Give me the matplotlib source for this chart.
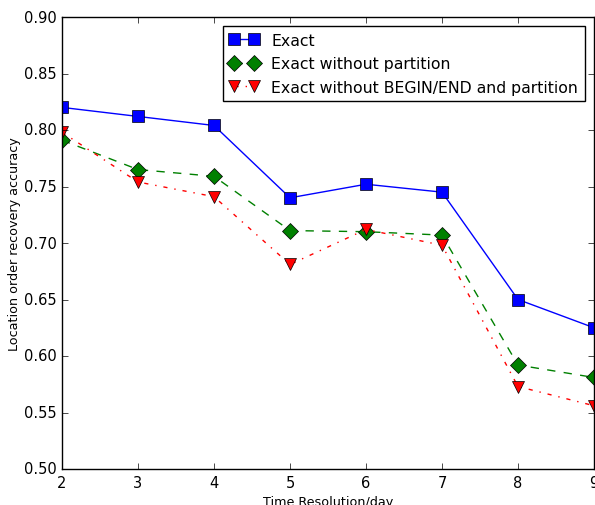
import matplotlib
matplotlib.use("Agg")
import matplotlib.pyplot as plt

plt.style.use("classic")

# time resolution (days)
resolution = [2, 3, 4, 5, 6, 7, 8, 9]

# recovery accuracy per method
exact = [0.820, 0.812, 0.804, 0.740, 0.752, 0.745, 0.650, 0.625]
exact_no_part = [0.791, 0.765, 0.759, 0.711, 0.710, 0.707, 0.592, 0.581]
exact_no_be_part = [0.798, 0.754, 0.741, 0.681, 0.712, 0.698, 0.573, 0.556]

fig = plt.figure(figsize=(5.95, 5.06), dpi=100)
ax = fig.add_axes([62 / 595, 36 / 506, 532 / 595, 452 / 506])

ax.plot(resolution, exact, "bs-", markersize=9, label="Exact")
ax.plot(resolution, exact_no_part, "gD--", markersize=8, label="Exact without partition")
ax.plot(resolution, exact_no_be_part, "rv-.", markersize=9,
        label="Exact without BEGIN/END and partition")

ax.set_xlim(2, 9)
ax.set_ylim(0.50, 0.90)
ax.tick_params(labelsize=10.5)
ax.set_xlabel("Time Resolution/day", fontsize=9.2, labelpad=4)
ax.set_ylabel("Location order recovery accuracy", fontsize=9.2, labelpad=2)
ax.legend(loc="upper right", fontsize=11.3, numpoints=2, handlelength=1.9,
          labelspacing=0.55, borderaxespad=0.6)

fig.savefig("out.png", dpi=100)
